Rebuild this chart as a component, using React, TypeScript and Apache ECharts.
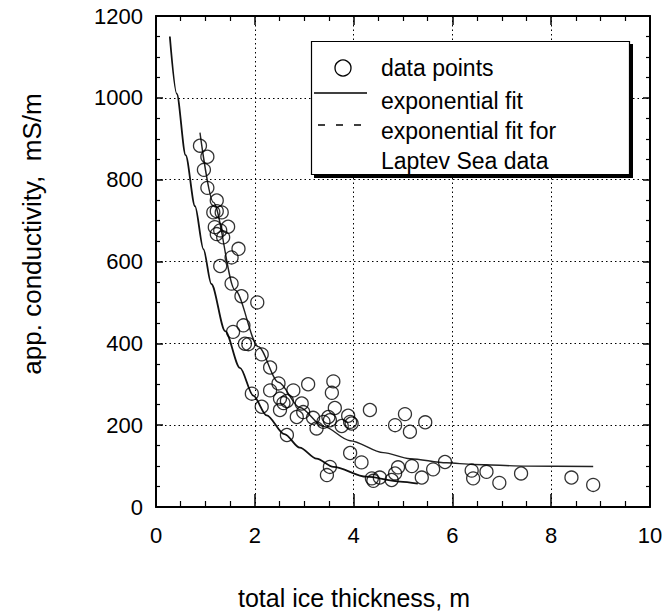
import React, { useEffect, useRef } from "react";
import * as echarts from "echarts";

// total ice thickness (m) of the data points
const thickness = [
  0.89, 1.04, 0.97, 1.04, 1.23, 1.23, 1.16, 1.33, 1.46, 1.19, 1.3, 1.23, 1.36, 1.67, 1.53, 1.3,
  1.53, 1.73, 2.05, 1.77, 1.56, 1.8, 1.87, 2.14, 2.31, 2.48, 2.31, 1.94, 2.78, 3.08, 2.51, 2.65,
  2.58, 3.59, 3.56, 2.14, 2.51, 2.95, 2.98, 3.62, 2.85, 3.18, 3.49, 3.89, 4.33, 3.39, 3.52, 3.93,
  3.25, 3.76, 5.04, 5.45, 4.84, 5.14, 3.93, 4.16, 3.52, 3.46, 4.37, 4.53, 4.4, 4.77, 4.84, 4.9,
  5.18, 5.38, 5.61, 5.85, 6.39, 6.42, 6.69, 6.95, 7.39, 8.41, 8.85, 2.65, 3.96,
];
// apparent conductivity (mS/m) of the data points
const conductivity = [
  883, 856, 824, 780, 749, 723, 720, 720, 685, 684, 676, 667, 659, 631, 610, 589,
  546, 515, 500, 444, 428, 399, 398, 373, 341, 302, 285, 277, 285, 300, 265, 259,
  254, 307, 279, 245, 237, 253, 232, 242, 220, 218, 220, 223, 237, 208, 212, 208,
  192, 198, 227, 207, 200, 184, 132, 109, 98, 78, 70, 72, 64, 66, 82, 97,
  100, 72, 92, 110, 89, 70, 86, 59, 82, 72, 54, 176, 204,
];

// exponential fit
const fitX = [0.89, 1.16, 1.6, 2.07, 2.48, 2.91, 3.39, 3.93, 4.6, 5.14, 5.88, 6.42, 7.5, 8.85];
const fitY = [915, 745, 530, 392, 305, 243, 197, 162, 133, 118, 108, 104, 100, 99];

// exponential fit for Laptev Sea data
const laptevX = [0.28, 0.42, 0.6, 0.79, 0.96, 1.12, 1.4, 1.7, 1.97, 2.24, 2.6, 2.91, 3.25, 3.59, 4.26, 4.94, 5.3];
const laptevY = [1150, 1010, 860, 735, 630, 545, 430, 340, 272, 224, 178, 145, 118, 98, 74, 62, 57];

const xTicks = [0, 2, 4, 6, 8, 10];
const yTicks = [0, 200, 400, 600, 800, 1000, 1200];

const legendLabels = ["data points", "exponential fit", "exponential fit for", "Laptev Sea data"];

const FONT = "'Liberation Sans', Arial, Helvetica, sans-serif";

export default function App() {
  const ref = useRef<HTMLDivElement>(null);

  useEffect(() => {
    document.body.style.margin = "0";
    const chart = echarts.init(ref.current!, null, { renderer: "svg" });

    const pts = thickness.map((x, i) => [x, conductivity[i]]);
    const fit = fitX.map((x, i) => [x, fitY[i]]);
    const lap = laptevX.map((x, i) => [x, laptevY[i]]);

    const axisLine = { show: true, onZero: false, lineStyle: { color: "#000", width: 2 } };
    const plain = (v: number) => String(v);

    const option: any = {
      animation: false,
      backgroundColor: "#fff",
      textStyle: { fontFamily: FONT },
      grid: { left: 156, top: 16, width: 494, height: 491, containLabel: false },
      xAxis: [
        {
          type: "value",
          min: xTicks[0],
          max: xTicks[xTicks.length - 1],
          interval: 2,
          position: "bottom",
          axisLine,
          axisTick: { show: true, inside: true, length: 13, lineStyle: { color: "#000", width: 1.5 } },
          minorTick: { show: true, splitNumber: 4, length: 6, lineStyle: { color: "#000", width: 1.2 } },
          axisLabel: { color: "#000", fontSize: 22, margin: 17, fontFamily: FONT, formatter: plain },
          splitLine: { show: true, lineStyle: { color: "#000", width: 1, type: [1.5, 3] } },
        },
        {
          type: "value",
          min: xTicks[0],
          max: xTicks[xTicks.length - 1],
          interval: 2,
          position: "top",
          axisLine,
          axisTick: { show: true, inside: true, length: 9, lineStyle: { color: "#000", width: 1.5 } },
          minorTick: { show: true, splitNumber: 4, length: 5, lineStyle: { color: "#000", width: 1.2 } },
          axisLabel: { show: false },
          splitLine: { show: false },
        },
      ],
      yAxis: [
        {
          type: "value",
          min: yTicks[0],
          max: yTicks[yTicks.length - 1],
          interval: 200,
          position: "left",
          axisLine,
          axisTick: { show: true, inside: true, length: 7, lineStyle: { color: "#000", width: 1.5 } },
          minorTick: { show: true, splitNumber: 4, length: 4, lineStyle: { color: "#000", width: 1.2 } },
          axisLabel: { color: "#000", fontSize: 22, margin: 13, fontFamily: FONT, formatter: plain },
          splitLine: { show: true, lineStyle: { color: "#000", width: 1, type: [1.5, 3] } },
        },
        {
          type: "value",
          min: yTicks[0],
          max: yTicks[yTicks.length - 1],
          interval: 200,
          position: "right",
          axisLine,
          axisTick: { show: true, inside: true, length: 7, lineStyle: { color: "#000", width: 1.5 } },
          minorTick: { show: true, splitNumber: 4, length: 4, lineStyle: { color: "#000", width: 1.2 } },
          axisLabel: { show: false },
          splitLine: { show: false },
        },
      ],
      series: [
        {
          type: "line",
          name: "exponential fit for Laptev Sea data",
          data: lap,
          smooth: 0.3,
          smoothMonotone: "x",
          showSymbol: false,
          lineStyle: { color: "#111", width: 1.8 },
          z: 3,
        },
        {
          type: "line",
          name: "exponential fit",
          data: fit,
          smooth: 0.3,
          smoothMonotone: "x",
          showSymbol: false,
          lineStyle: { color: "#222", width: 1.4 },
          z: 3,
        },
        {
          type: "scatter",
          name: "data points",
          data: pts,
          symbol: "circle",
          symbolSize: 13,
          itemStyle: { color: "rgba(0,0,0,0)", borderColor: "#000", borderWidth: 1.3 },
          z: 4,
        },
      ],
      graphic: [
        { type: "rect", shape: { x: 314, y: 44, width: 319, height: 134 }, style: { fill: "#000" }, z: 100 },
        {
          type: "rect",
          shape: { x: 311.5, y: 41.5, width: 318, height: 133 },
          style: { fill: "#fff", stroke: "#000", lineWidth: 1.2 },
          z: 101,
        },
        { type: "circle", shape: { cx: 343, cy: 68, r: 8 }, style: { fill: "none", stroke: "#000", lineWidth: 1.3 }, z: 102 },
        { type: "line", shape: { x1: 314, y1: 93, x2: 367, y2: 93 }, style: { stroke: "#000", lineWidth: 1.5 }, z: 102 },
        {
          type: "line",
          shape: { x1: 318, y1: 125, x2: 363, y2: 125 },
          style: { stroke: "#000", lineWidth: 1.5, lineDash: [7, 11] },
          z: 102,
        },
        ...legendLabels.map((t, i) => ({
          type: "text",
          x: 381,
          y: [68, 101, 131, 161][i],
          z: 102,
          style: {
            text: t,
            fill: "#000",
            font: `23px ${FONT}`,
            textAlign: "left",
            textVerticalAlign: "middle",
          },
        })),
        {
          type: "text",
          x: 32,
          y: 234,
          rotation: Math.PI / 2,
          style: {
            text: "app. conductivity,  mS/m",
            fill: "#000",
            font: `26px ${FONT}`,
            textAlign: "center",
            textVerticalAlign: "middle",
          },
        },
        {
          type: "text",
          x: 354,
          y: 598,
          style: {
            text: "total ice thickness, m",
            fill: "#000",
            font: `25px ${FONT}`,
            textAlign: "center",
            textVerticalAlign: "middle",
          },
        },
      ],
    };

    chart.setOption(option);
    return () => chart.dispose();
  }, []);

  return <div ref={ref} style={{ width: 670, height: 612 }} />;
}
